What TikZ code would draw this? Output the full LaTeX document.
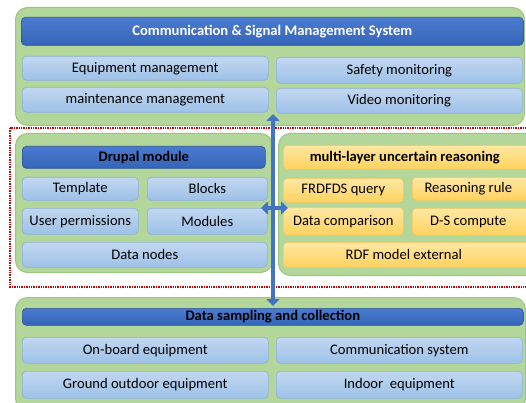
\documentclass[tikz,border=0pt]{standalone}
\usepackage{fontspec}
\setmainfont{Carlito}
\usetikzlibrary{arrows.meta}
\definecolor{panelfill}{HTML}{B3D69A}
\definecolor{paneldraw}{HTML}{9CC582}
\definecolor{hdrtop}{HTML}{4A7BD0}
\definecolor{hdrbot}{HTML}{3565B8}
\definecolor{hdrdraw}{HTML}{2F5597}
\definecolor{lbtop}{HTML}{C2D7F0}
\definecolor{lbbot}{HTML}{9DC1E8}
\definecolor{lbdraw}{HTML}{8FB0DA}
\definecolor{yltop}{HTML}{FFE7A3}
\definecolor{ylbot}{HTML}{FFD25E}
\definecolor{yldraw}{HTML}{F0C860}
\definecolor{arrowblue}{HTML}{4472C4}
\tikzset{
  panel/.style={fill=panelfill, draw=paneldraw, line width=1pt, rounded corners=12pt},
  hdr/.style={top color=hdrtop, bottom color=hdrbot, draw=hdrdraw, line width=0.6pt, rounded corners=4pt, text=white, font=\fontsize{14.6}{16}\selectfont\bfseries},
  hdrdark/.style={hdr, text=black},
  lb/.style={top color=lbtop, bottom color=lbbot, draw=lbdraw, line width=0.6pt, rounded corners=4pt, font=\fontsize{14.6}{16}\selectfont},
  yl/.style={top color=yltop, bottom color=ylbot, draw=yldraw, line width=0.6pt, rounded corners=4pt, font=\fontsize{14.6}{16}\selectfont},
  ylhdr/.style={yl, font=\fontsize{14.6}{16}\selectfont\bfseries},
  bigarrow/.style={draw=arrowblue, line width=4.5pt, {Triangle[width=13pt,length=7pt]}-{Triangle[width=13pt,length=7pt]}},
  redframe/.style={draw=red!80!black, densely dotted, line width=1.4pt}
}
\newcommand\placebox[7]{\node[#1, anchor=north west, inner sep=0pt, minimum width={(#5-#3)*1pt}, minimum height={(#6-#4)*1pt}] (#2) at (#3,#4) {#7};}
\begin{document}
\begin{tikzpicture}[x=1pt,y=-1pt]
\useasboundingbox (0,0) rectangle (526,403);
\clip (0,0) rectangle (526,403);
% red dotted frame
\draw[redframe] (10,128) rectangle (540,287);
% top panel
\placebox{panel}{toppanel}{15}{7}{524}{125}{}
\placebox{hdr}{tophdr}{21}{17}{523}{45}{Communication \& Signal Management System}
\placebox{lb}{equip}{22}{56}{268}{80}{Equipment management}
\placebox{lb}{safety}{276}{57}{522}{83}{Safety monitoring}
\placebox{lb}{maint}{22}{87}{268}{112}{maintenance management}
\placebox{lb}{video}{276}{88}{522}{113}{Video monitoring}
% middle left panel
\placebox{panel}{leftpanel}{15}{133}{272}{272}{}
\placebox{hdrdark}{drupal}{22}{146}{265}{168}{Drupal module}
\placebox{lb}{template}{22}{177}{138}{200}{Template}
\placebox{lb}{blocks}{147}{177}{267}{200}{Blocks}
\placebox{lb}{userperm}{22}{208}{138}{234}{User permissions}
\placebox{lb}{modules}{147}{208}{267}{234}{Modules}
\placebox{lb}{datanodes}{22}{242}{267}{267}{Data nodes}
% middle right panel
\placebox{panel}{rightpanel}{278}{133}{540}{275}{}
\placebox{ylhdr}{reason}{283}{145}{530}{169}{\hspace*{-4pt}multi-layer uncertain reasoning}
\placebox{yl}{frdfds}{283}{178}{403}{202}{FRDFDS query}
\placebox{yl}{rrule}{412}{177}{530}{200}{\hspace*{-6pt}Reasoning rule}
\placebox{yl}{datacmp}{283}{207}{403}{235}{Data comparison}
\placebox{yl}{dscomp}{412}{208}{530}{235}{\hspace*{-6pt}D-S compute}
\placebox{yl}{rdf}{283}{242}{530}{267}{\hspace*{-6pt}RDF model external}
% bottom panel
\placebox{panel}{botpanel}{15}{297}{525}{410}{}
\placebox{hdrdark}{sampling}{22}{308}{523}{325}{Data sampling and collection}
\placebox{lb}{onboard}{22}{337}{268}{363}{On-board equipment}
\placebox{lb}{commsys}{276}{337}{522}{363}{Communication system}
\placebox{lb}{ground}{22}{371}{268}{398}{Ground outdoor equipment}
\placebox{lb}{indoor}{276}{371}{522}{398}{Indoor\ \ equipment}
% arrows
\coordinate (vtop) at (273,114);
\coordinate (vbot) at (273,306);
\coordinate (hleft) at (261,208);
\coordinate (hright) at (288,208);
\draw[bigarrow] (vtop) -- (vbot);
\draw[bigarrow] (hleft) -- (hright);
\end{tikzpicture}
\end{document}
